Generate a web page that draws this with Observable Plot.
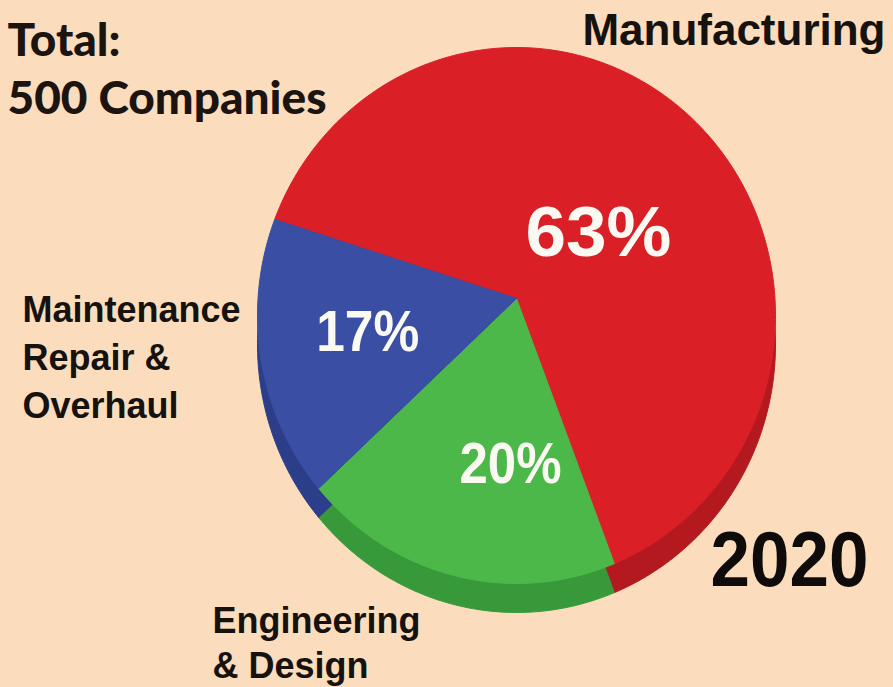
<!DOCTYPE html>
<html><head><meta charset="utf-8">
<script src="https://cdn.jsdelivr.net/npm/d3@7"></script>
<script src="https://cdn.jsdelivr.net/npm/@observablehq/plot@0.6"></script>
<style>
html,body{margin:0;padding:0;background:#FBDCBD;}
#chart{width:893px;height:687px;overflow:hidden;}
</style>
</head><body><div id="chart"></div>
<script>
// ---- data ----
const categories = ["Manufacturing", "Engineering & Design", "Maintenance Repair & Overhaul"];
const shares = [63, 20, 17];
const pctLabels = ["63%", "20%", "17%"];
const categoryLabels = ["Manufacturing", "Engineering\n& Design", "Maintenance\nRepair &\nOverhaul"];
const topColors = ["#DA1F27", "#4DB84A", "#3A4EA3"];
const sideColors = ["#B3191F", "#38993A", "#2C3D8A"];
const totalLabel = "Total:\n500 Companies";
const yearLabel = "2020";

// ---- layout ----
const W = 893, H = 687;
const cx = 516, cy = 315, rx = 259, ry = 268;
const xDomain = [-cx / rx, (W - cx) / rx];
const yDomain = [-(H - cy) / ry, cy / ry];
const apexLift = 17 / ry, depth = 29 / ry;
const startDeg = -69;
const rad = Math.PI / 180;

const arcs = d3.pie().sort(null).value(d => d)
  .startAngle(startDeg * rad).endAngle(startDeg * rad + 2 * Math.PI)(shares);

function wedge(a0, a1, key, color, yOff, apex) {
  const pts = [{key, color, x: 0, y: apex + yOff}];
  const n = Math.max(8, Math.ceil((a1 - a0) / (1 * rad)));
  for (let k = 0; k <= n; k++) {
    const a = a0 + (a1 - a0) * k / n;
    pts.push({key, color, x: Math.sin(a), y: Math.cos(a) + yOff});
  }
  pts.push({key, color, x: 0, y: apex + yOff});
  return pts;
}

const sidePts = arcs.flatMap((a, i) => wedge(a.startAngle, a.endAngle, categories[i] + "-side", sideColors[i], -depth, apexLift));
const topPts = arcs.flatMap((a, i) => wedge(a.startAngle, a.endAngle, categories[i], topColors[i], 0, apexLift));

// percentage label placement: mid-angle with small angular tweak and radius
const labelTweak = [{da: 1.6, r: 0.44, size: 70, len: 146}, {da: -11.4, r: 0.556, size: 58, len: 102}, {da: 3.3, r: 0.578, size: 58, len: 103}];
const pctData = arcs.map((a, i) => {
  const m = (a.startAngle + a.endAngle) / 2 + labelTweak[i].da * rad;
  return {label: pctLabels[i], x: labelTweak[i].r * Math.sin(m), y: labelTweak[i].r * Math.cos(m), size: labelTweak[i].size, len: labelTweak[i].len};
});

const catFont = "'Liberation Sans', Arial, Helvetica, sans-serif";

const plot = Plot.plot({
  width: W, height: H,
  margin: 0,
  x: {domain: xDomain, axis: null},
  y: {domain: yDomain, axis: null},
  color: {type: "identity"},
  style: {background: "#FBDCBD", overflow: "visible"},
  marks: [
    Plot.line(sidePts, {x: "x", y: "y", z: "key", fill: "color", stroke: "color", strokeWidth: 1}),
    Plot.line(topPts, {x: "x", y: "y", z: "key", fill: "color", stroke: "color", strokeWidth: 1}),
    ...pctData.map(d => Plot.text([d], {x: "x", y: "y", text: "label", fill: "#FAFAF2", fontSize: d.size, fontWeight: "bold", fontFamily: catFont, lineAnchor: "middle"})),
    Plot.text([totalLabel], {frameAnchor: "top-left", text: d => d, dx: 7, dy: 14, lineAnchor: "top", textAnchor: "start", fontSize: 46, lineHeight: 1.26, fontWeight: 900, fontFamily: "Lato, 'Open Sans', sans-serif", fill: "#1C1410"}),
    Plot.text([categoryLabels[0]], {frameAnchor: "top-right", text: d => d, dx: -8, dy: 13, lineAnchor: "top", textAnchor: "end", fontSize: 44, fontWeight: "bold", fontFamily: catFont, fill: "#161210"}),
    Plot.text([categoryLabels[2]], {frameAnchor: "top-left", text: d => d, dx: 22, dy: 288, lineAnchor: "top", textAnchor: "start", fontSize: 36, lineHeight: 1.33, fontWeight: "bold", fontFamily: catFont, fill: "#161210"}),
    Plot.text([categoryLabels[1]], {frameAnchor: "top-left", text: d => d, dx: 212, dy: 601, lineAnchor: "top", textAnchor: "start", fontSize: 36, lineHeight: 1.25, fontWeight: "bold", fontFamily: catFont, fill: "#161210"}),
    Plot.text([yearLabel], {frameAnchor: "top-right", text: d => d, dx: -25, dy: 530, lineAnchor: "top", textAnchor: "end", fontSize: 78, fontWeight: "bold", fontFamily: catFont, fill: "#0E0B0A"})
  ]
});

// condense labels like the reference typeface
const sel = d3.select(plot).selectAll("text");
sel.filter(function() { return this.textContent === yearLabel; })
  .attr("textLength", 158).attr("lengthAdjust", "spacingAndGlyphs");
pctData.forEach(d => {
  sel.filter(function() { return this.textContent === d.label; })
    .attr("textLength", d.len).attr("lengthAdjust", "spacingAndGlyphs");
});

document.getElementById("chart").appendChild(plot);
</script>
</body></html>
